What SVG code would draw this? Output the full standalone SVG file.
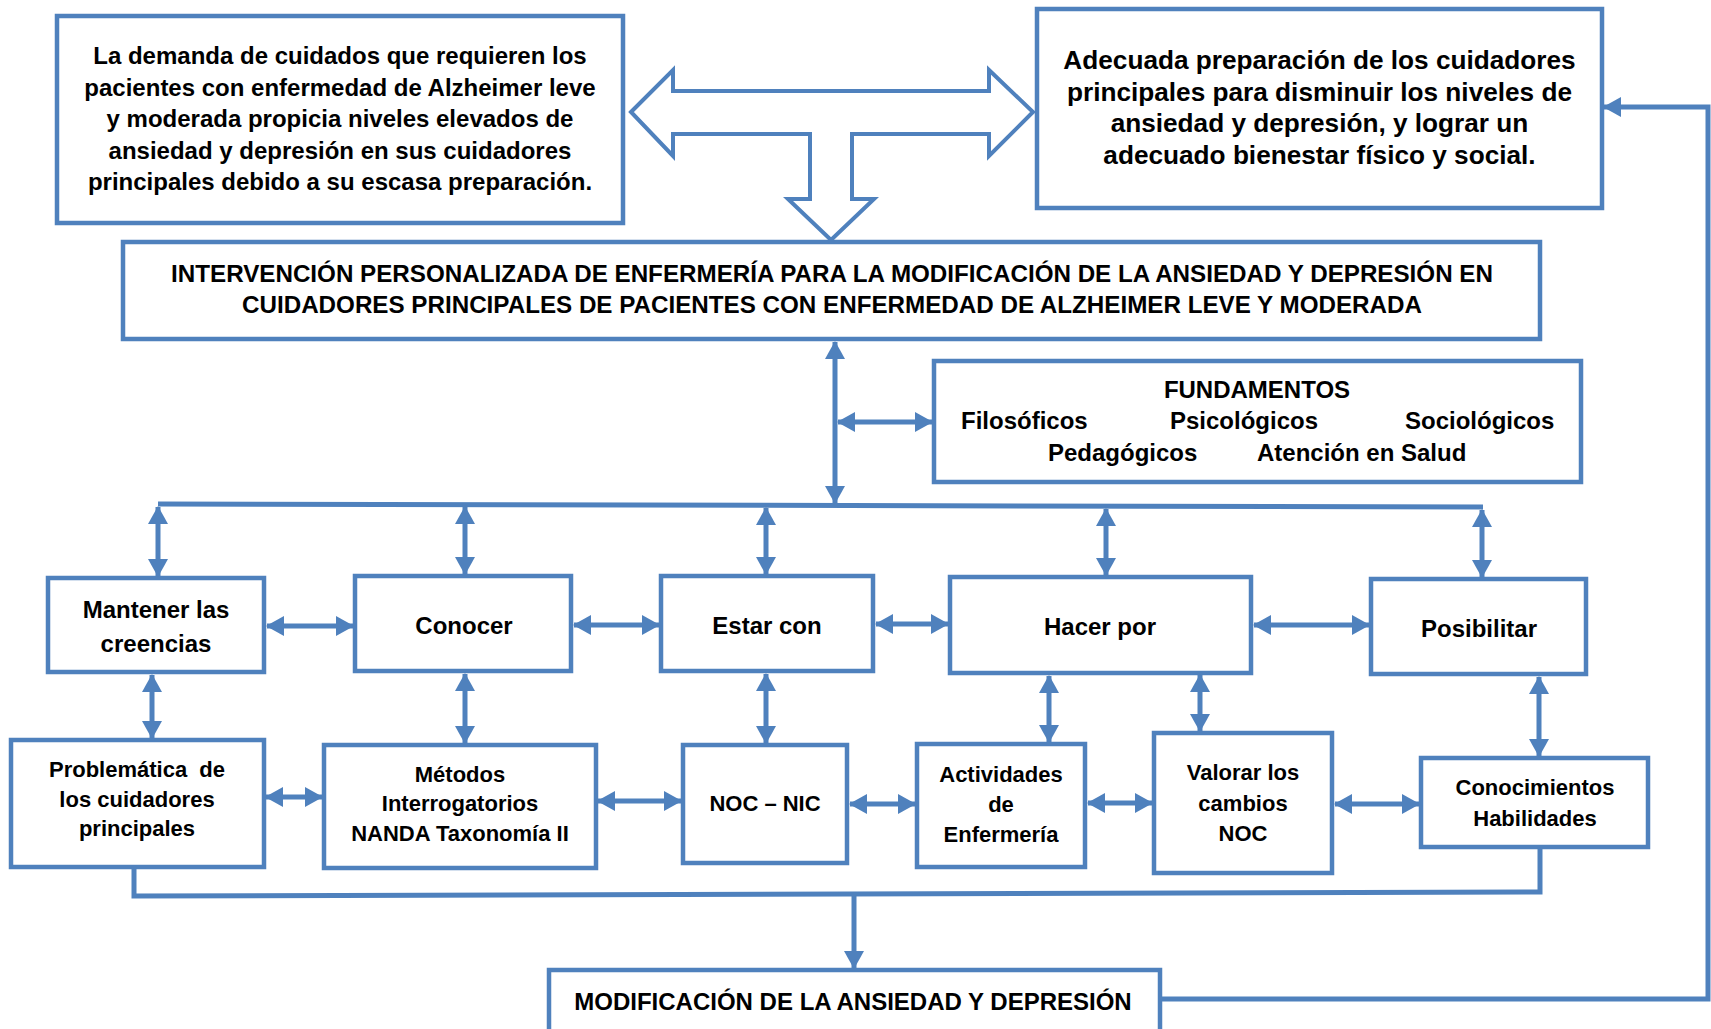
<svg xmlns="http://www.w3.org/2000/svg" width="1711" height="1029" viewBox="0 0 1711 1029">
<style>
.box{fill:#fff;stroke:#4F81BD;stroke-width:4.5}
.t{font-family:"Liberation Sans",Arial,sans-serif;font-weight:bold;font-size:24px;fill:#000;text-anchor:middle}
.s{text-anchor:start}
.b2{font-size:26.2px}
.tt{font-size:24.2px}
.r2{font-size:22px}
.c{stroke:#4F81BD;stroke-width:5;fill:none}
.blk{fill:#fff;stroke:#4F81BD;stroke-width:4;stroke-linejoin:miter}
</style>
<defs>
<marker id="ah" viewBox="0 0 18 20" markerUnits="userSpaceOnUse" markerWidth="18" markerHeight="20" refX="17" refY="10" orient="auto-start-reverse">
<path d="M0,0 L18,10 L0,20 Z" fill="#4F81BD"/>
</marker>
</defs>
<rect width="1711" height="1029" fill="#fff"/>

<g id="problem">
<rect class="box" x="57" y="16" width="566" height="207"/>
<text class="t" x="340" y="64">La demanda de cuidados que requieren los</text>
<text class="t" x="340" y="95.5">pacientes con enfermedad de Alzheimer leve</text>
<text class="t" x="340" y="127">y moderada propicia niveles elevados de</text>
<text class="t" x="340" y="158.5">ansiedad y depresión en sus cuidadores</text>
<text class="t" x="340" y="190">principales debido a su escasa preparación.</text>
</g>

<g id="objetivo">
<rect class="box" x="1037" y="9" width="565" height="199"/>
<text class="t b2" x="1319.5" y="69">Adecuada preparación de los cuidadores</text>
<text class="t b2" x="1319.5" y="101">principales para disminuir los niveles de</text>
<text class="t b2" x="1319.5" y="132">ansiedad y depresión, y lograr un</text>
<text class="t b2" x="1319.5" y="164">adecuado bienestar físico y social.</text>
</g>

<g id="block-arrow">
<path class="blk" d="M631,112 L673,70 L673,91 L989,91 L989,70 L1033,112 L989,156 L989,134 L852,134 L852,199 L874,199 L831,240 L788,199 L810,199 L810,134 L673,134 L673,156 Z"/>
</g>

<g id="titulo">
<rect class="box" x="123" y="242" width="1417" height="97"/>
<text class="t tt" x="832" y="282">INTERVENCIÓN PERSONALIZADA DE ENFERMERÍA PARA LA MODIFICACIÓN DE LA ANSIEDAD Y DEPRESIÓN EN</text>
<text class="t tt" x="832" y="313">CUIDADORES PRINCIPALES DE PACIENTES CON ENFERMEDAD DE ALZHEIMER LEVE Y MODERADA</text>
</g>

<g id="fundamentos">
<rect class="box" x="934" y="361" width="647" height="121"/>
<text class="t" x="1257" y="398">FUNDAMENTOS</text>
<text class="t s" x="961" y="429">Filosóficos</text>
<text class="t s" x="1170" y="429">Psicológicos</text>
<text class="t s" x="1405" y="429">Sociológicos</text>
<text class="t s" x="1048" y="461">Pedagógicos</text>
<text class="t s" x="1257" y="461">Atención en Salud</text>
</g>

<g id="mantener">
<rect class="box" x="48" y="578" width="216" height="94"/>
<text class="t" x="156" y="618">Mantener las</text>
<text class="t" x="156" y="652">creencias</text>
</g>
<g id="conocer">
<rect class="box" x="355" y="576" width="216" height="95"/>
<text class="t" x="464" y="634">Conocer</text>
</g>
<g id="estar">
<rect class="box" x="661" y="576" width="212" height="95"/>
<text class="t" x="767" y="634">Estar con</text>
</g>
<g id="hacer">
<rect class="box" x="950" y="577" width="301" height="96"/>
<text class="t" x="1100" y="635">Hacer por</text>
</g>
<g id="posibilitar">
<rect class="box" x="1371" y="579" width="215" height="95"/>
<text class="t" x="1479" y="637">Posibilitar</text>
</g>

<g id="problematica">
<rect class="box" x="11" y="740" width="253" height="127"/>
<text class="t r2" x="137" y="777" xml:space="preserve" style="white-space:pre">Problemática  de</text>
<text class="t r2" x="137" y="807">los cuidadores</text>
<text class="t r2" x="137" y="836">principales</text>
</g>
<g id="metodos">
<rect class="box" x="324" y="745" width="272" height="123"/>
<text class="t r2" x="460" y="782">Métodos</text>
<text class="t r2" x="460" y="811">Interrogatorios</text>
<text class="t r2" x="460" y="841">NANDA Taxonomía II</text>
</g>
<g id="noc-nic">
<rect class="box" x="683" y="745" width="164" height="118"/>
<text class="t r2" x="765" y="811">NOC – NIC</text>
</g>
<g id="actividades">
<rect class="box" x="917" y="744" width="168" height="123"/>
<text class="t r2" x="1001" y="782">Actividades</text>
<text class="t r2" x="1001" y="812">de</text>
<text class="t r2" x="1001" y="842">Enfermería</text>
</g>
<g id="valorar">
<rect class="box" x="1154" y="733" width="178" height="140"/>
<text class="t r2" x="1243" y="780">Valorar los</text>
<text class="t r2" x="1243" y="811">cambios</text>
<text class="t r2" x="1243" y="841">NOC</text>
</g>
<g id="conocimientos">
<rect class="box" x="1421" y="758" width="227" height="89"/>
<text class="t r2" x="1535" y="795">Conocimientos</text>
<text class="t r2" x="1535" y="826">Habilidades</text>
</g>

<g id="modificacion">
<rect class="box" x="549" y="970" width="611" height="80"/>
<text class="t" x="853" y="1010">MODIFICACIÓN DE LA ANSIEDAD Y DEPRESIÓN</text>
</g>

<g id="connectors">
<path class="c" d="M158,504 L1483,507"/>
<path class="c" d="M134,867 V896 L1540,892 V847"/>
<path class="c" d="M835,342 V503" marker-start="url(#ah)" marker-end="url(#ah)"/>
<path class="c" d="M838,422 H932" marker-start="url(#ah)" marker-end="url(#ah)"/>
<path class="c" d="M158,507 V576" marker-start="url(#ah)" marker-end="url(#ah)"/>
<path class="c" d="M465,507 V574" marker-start="url(#ah)" marker-end="url(#ah)"/>
<path class="c" d="M766,508 V574" marker-start="url(#ah)" marker-end="url(#ah)"/>
<path class="c" d="M1106,509 V575" marker-start="url(#ah)" marker-end="url(#ah)"/>
<path class="c" d="M1482,510 V577" marker-start="url(#ah)" marker-end="url(#ah)"/>
<path class="c" d="M267,626 H353" marker-start="url(#ah)" marker-end="url(#ah)"/>
<path class="c" d="M574,625 H659" marker-start="url(#ah)" marker-end="url(#ah)"/>
<path class="c" d="M876,624 H948" marker-start="url(#ah)" marker-end="url(#ah)"/>
<path class="c" d="M1254,625 H1369" marker-start="url(#ah)" marker-end="url(#ah)"/>
<path class="c" d="M152,675 V738" marker-start="url(#ah)" marker-end="url(#ah)"/>
<path class="c" d="M465,674 V743" marker-start="url(#ah)" marker-end="url(#ah)"/>
<path class="c" d="M766,674 V743" marker-start="url(#ah)" marker-end="url(#ah)"/>
<path class="c" d="M1049,676 V742" marker-start="url(#ah)" marker-end="url(#ah)"/>
<path class="c" d="M1200,675 V731" marker-start="url(#ah)" marker-end="url(#ah)"/>
<path class="c" d="M1539,677 V756" marker-start="url(#ah)" marker-end="url(#ah)"/>
<path class="c" d="M266,797 H322" marker-start="url(#ah)" marker-end="url(#ah)"/>
<path class="c" d="M598,801 H681" marker-start="url(#ah)" marker-end="url(#ah)"/>
<path class="c" d="M850,804 H915" marker-start="url(#ah)" marker-end="url(#ah)"/>
<path class="c" d="M1088,803 H1152" marker-start="url(#ah)" marker-end="url(#ah)"/>
<path class="c" d="M1335,804 H1419" marker-start="url(#ah)" marker-end="url(#ah)"/>
<path class="c" d="M854,896 V968" marker-end="url(#ah)"/>
<path class="c" d="M1161,999 H1708 V107 H1604" marker-end="url(#ah)"/>
</g>
</svg>
